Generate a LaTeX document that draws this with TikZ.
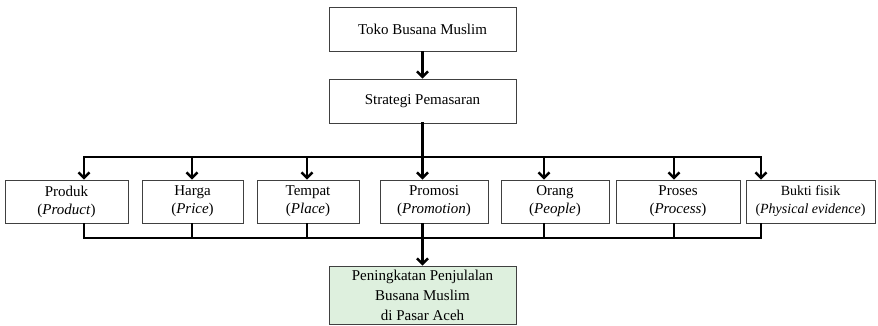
\documentclass[tikz,border=0pt]{standalone}
\usepackage{fontspec}
\setmainfont{Liberation Serif}
\usetikzlibrary{arrows.meta}
\definecolor{hijau}{RGB}{222,240,222}
\tikzset{kotak/.style={draw=black!75,line width=0.8pt,inner sep=0pt,minimum height=43pt,
    align=center,font=\fontsize{15}{18}\selectfont},
  garis/.style={line width=2.5pt,line cap=rect},
  panah/.style={line width=2.5pt,-{Straight Barb[length=5.5pt,width=11pt]}}}

\begin{document}
\begin{tikzpicture}[x=1pt,y=-1pt]
      \useasboundingbox (0,0) rectangle (878,326) ;
      \node[kotak,minimum width=187pt,minimum height=44pt] (toko) at (422.5,29) {Toko Busana Muslim} ;
      \node[kotak,minimum width=187pt,minimum height=44pt] (strategi) at (422.5,101) {Strategi Pemasaran} ;
      \node[kotak,minimum width=123pt] (produk) at (66.5,201.5) {Produk\\(\textit{Product})} ;
      \node[kotak,minimum width=101pt] (harga) at (192.5,201.5) {Harga\\(\textit{Price})} ;
      \node[kotak,minimum width=102pt] (tempat) at (308,201.5) {Tempat\\(\textit{Place})} ;
      \node[kotak,minimum width=108pt] (promosi) at (434,201.5) {Promosi\\(\textit{Promotion})} ;
      \node[kotak,minimum width=108pt] (orang) at (555,201.5) {Orang\\(\textit{People})} ;
      \node[kotak,minimum width=124pt] (proses) at (678,201.5) {Proses\\(\textit{Process})} ;
      \node[kotak,minimum width=129pt,font=\fontsize{14}{18}\selectfont] (bukti) at (810.5,201.5) {Bukti fisik\\(\textit{Physical evidence})} ;
      \node[kotak,minimum width=187pt,minimum height=58pt,fill=hijau,font=\fontsize{15}{20}\selectfont] %
      (hasil) at (422.5,295) {Peningkatan Penjulalan\\Busana Muslim\\di Pasar Aceh} ;
      \foreach \x/\n in {84/produk,192/harga,307/tempat,422.5/promosi,544/orang,674/proses,761/bukti}
      {
        \coordinate (a-\n) at (\x,157) ;
        \coordinate (b-\n) at (\x,238) ;
      }
      \draw[panah] (toko.south) -- (strategi.north) ;
      \draw[garis] (strategi.south) -- (a-promosi) ;
      \draw[garis] (a-produk) -- (a-bukti) ;
      \foreach \n in {produk,harga,tempat,promosi,orang,proses,bukti}
      {
        \draw[panah] (a-\n) -- (a-\n |- \n.north) ;
        \draw[line width=2.5pt] (b-\n |- \n.south) -- (b-\n) ;
      }
      \draw[garis] (b-produk) -- (b-bukti) ;
      \draw[panah] (b-promosi) -- (hasil.north) ;
    \end{tikzpicture}
\end{document}
